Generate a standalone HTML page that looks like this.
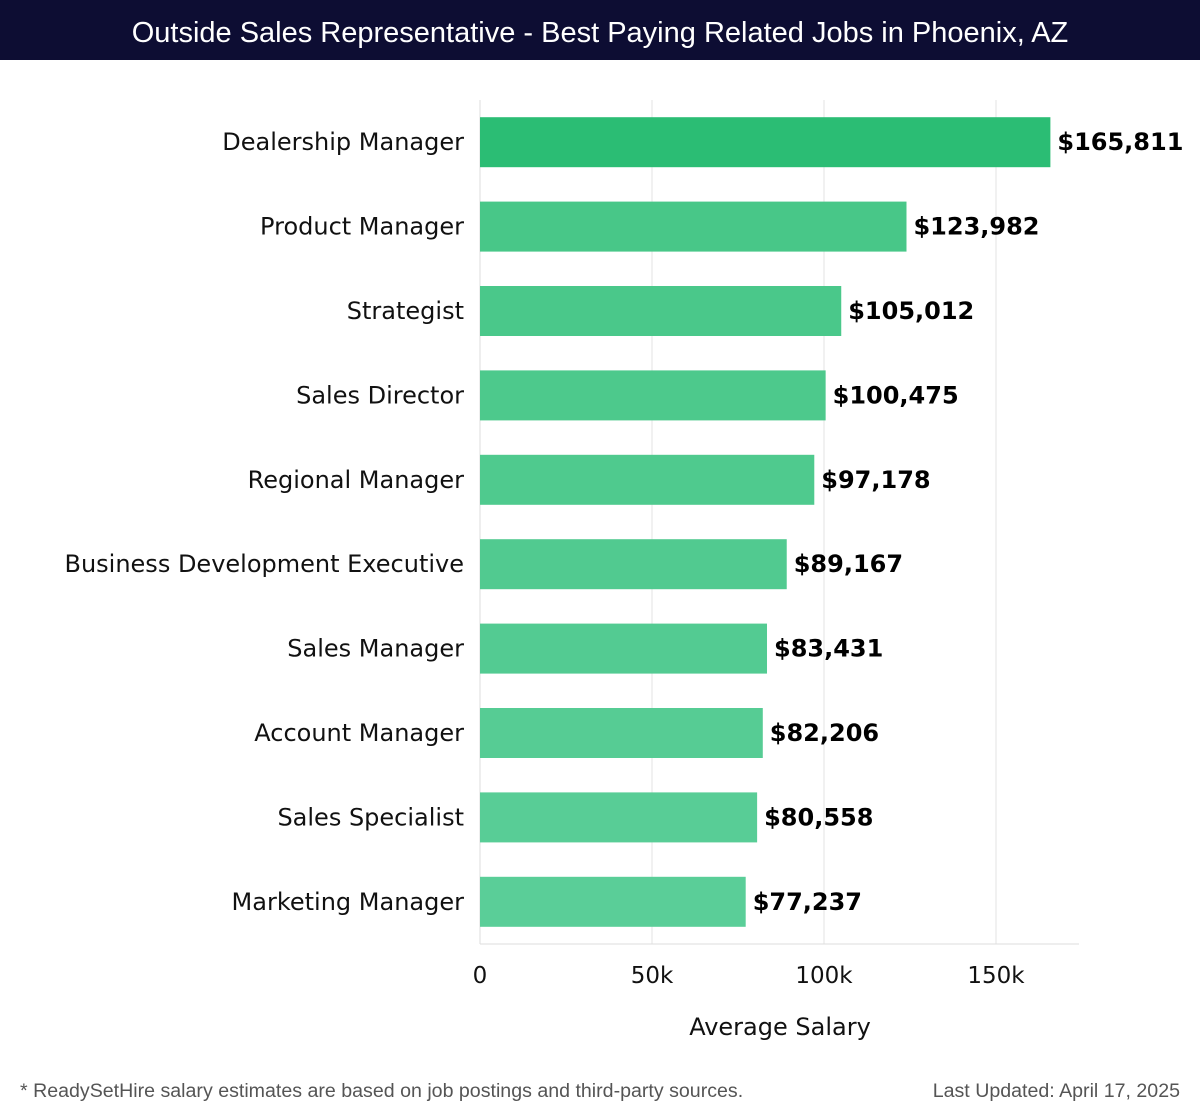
<!DOCTYPE html>
<html><head><meta charset="utf-8"><style>
body{margin:0;width:1200px;height:1120px;background:#fff;font-family:"Liberation Sans","DejaVu Sans",sans-serif;overflow:hidden}
#title{position:absolute;left:0;top:0;width:1200px;height:60px;background:#0d0d33;color:#fff;font-size:29px;text-align:center;line-height:66px}
.foot{position:absolute;top:1080px;font-size:19.6px;color:#555}
svg text{font-family:"DejaVu Sans","Liberation Sans",sans-serif}
</style></head><body>
<div id="title">Outside Sales Representative - Best Paying Related Jobs in Phoenix, AZ</div>
<svg id="chart" width="1200" height="1120" style="position:absolute;left:0;top:0"></svg>
<div class="foot" style="left:20px">* ReadySetHire salary estimates are based on job postings and third-party sources.</div>
<div class="foot" style="right:20px">Last Updated: April 17, 2025</div>
<script>
const categories=["Dealership Manager","Product Manager","Strategist","Sales Director","Regional Manager","Business Development Executive","Sales Manager","Account Manager","Sales Specialist","Marketing Manager"];
const salaries=[165811,123982,105012,100475,97178,89167,83431,82206,80558,77237];
const labels=["$165,811","$123,982","$105,012","$100,475","$97,178","$89,167","$83,431","$82,206","$80,558","$77,237"];
const ticks=[0,50000,100000,150000];
const tickLabels=["0","50k","100k","150k"];
const ns="http://www.w3.org/2000/svg";
const svg=document.getElementById('chart');
const x0=480,xMax=1079,plotTop=100,plotBottom=944;
const xs=v=>x0+v*(996-480)/150000;
const band=(plotBottom-plotTop)/categories.length;
const ys=i=>plotTop+i*band;
function mk(t,a){const e=document.createElementNS(ns,t);for(const k in a)e.setAttribute(k,a[k]);svg.appendChild(e);return e;}
ticks.forEach((t,i)=>{
 const g=mk('line',{x1:xs(t),x2:xs(t),y1:plotTop,y2:plotBottom,stroke:'#e3e3e3','stroke-width':1});
 
 
 const tl=mk('text',{x:xs(t),y:983,'text-anchor':'middle','font-size':23,fill:'#111'});
 tl.textContent=tickLabels[i];
 
 
});
const ax=mk('line',{x1:x0,x2:xMax,y1:plotBottom,y2:plotBottom,stroke:'#ddd'});


const ay=mk('line',{x1:x0,x2:x0,y1:plotTop,y2:plotBottom,stroke:'#ddd'});


categories.forEach((c,i)=>{
 const cy=ys(i)+band/2;
 const f=i/(categories.length-1);
 const col=i===0?'#2bbd74':`rgb(${Math.round(70+f*20)},${Math.round(198+f*8)},${Math.round(134+f*18)})`;
 const b=mk('rect',{x:x0,y:cy-25,width:xs(salaries[i])-x0,height:50,fill:col});
 
 
 const l=mk('text',{x:464,y:cy+8,'text-anchor':'end','font-size':24,fill:'#111'});
 l.textContent=c;
 
 
 const v=mk('text',{x:xs(salaries[i])+7,y:cy+8,'font-size':24,'font-weight':'bold',fill:'#000'});
 v.textContent=labels[i];
 
 
});
const xt=mk('text',{x:780,y:1035,'text-anchor':'middle','font-size':24,fill:'#111'});
xt.textContent='Average Salary';


</script>
</body></html>
